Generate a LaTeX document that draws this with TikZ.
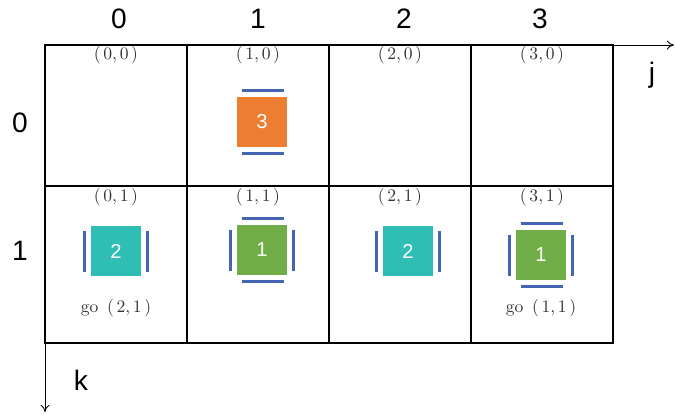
\documentclass[tikz,border=0pt]{standalone}
\usepackage{fontspec}
\newfontfamily\arial{Liberation Sans}
\usetikzlibrary{arrows.meta,positioning,calc}
\definecolor{orng}{RGB}{237,125,49}
\definecolor{tealc}{RGB}{46,190,180}
\definecolor{grn}{RGB}{112,173,71}
\definecolor{wall}{RGB}{68,100,180}
\tikzset{
  cellline/.style={draw=black,line width=0.7pt},
  axis/.style={-{To[length=4pt,width=5pt]},line width=0.5pt},
  idx/.style={font=\arial\fontsize{16}{19}\selectfont},
  coordlbl/.style={font=\fontsize{10}{12}\selectfont,text=black!80,inner sep=1pt},
  car/.style={minimum size=1cm,inner sep=0pt,text=white,font=\arial\fontsize{11.5}{13}\selectfont},
  bar/.style={draw=wall,line width=1.4pt},
}
\newcommand{\pos}[2]{(\kern1.5pt#1,\kern1.5pt#2\kern1.5pt)}

\begin{document}
\begin{tikzpicture}[x=0.02cm,y=-0.02cm]
  \useasboundingbox (0,0) rectangle (675,414);
  % grid
  \draw[cellline] (45,45) rectangle (613,343);
  \draw[cellline] (45,186) -- (613,186);
  \draw[cellline] (187,45) -- (187,343);
  \draw[cellline] (329,45) -- (329,343);
  \draw[cellline] (471,45) -- (471,343);
  % axes
  \coordinate (o) at (45,45);
  \coordinate (jend) at (674,45);
  \coordinate (kend) at (45,412);
  \draw[axis] (o) -- (jend);
  \draw[axis] (o) -- (kend);
  \node[idx] (jlbl) at (652,75) {j};
  \node[idx] (klbl) at (81,380) {k};
  % indices
  \node[idx] (c0) at (119,19) {0};
  \node[idx] (c1) at (258,19) {1};
  \node[idx] (c2) at (404,19) {2};
  \node[idx] (c3) at (540,19) {3};
  \node[idx] (r0) at (20,123) {0};
  \node[idx] (r1) at (20,251) {1};
  % cell coordinates
  \node[coordlbl] (p00) at (116,55) {\pos{0}{0}};
  \node[coordlbl] (p10) at (258,55) {\pos{1}{0}};
  \node[coordlbl] (p20) at (400,55) {\pos{2}{0}};
  \node[coordlbl] (p30) at (542,55) {\pos{3}{0}};
  \node[coordlbl] (p01) at (116,197) {\pos{0}{1}};
  \node[coordlbl] (p11) at (258,197) {\pos{1}{1}};
  \node[coordlbl] (p21) at (400,197) {\pos{2}{1}};
  \node[coordlbl] (p31) at (542,197) {\pos{3}{1}};
  % cars
  \node[car,fill=orng] (b10) at (262,122) {3};
  \node[car,fill=tealc] (b01) at (116,251) {2};
  \node[car,fill=grn] (b11) at (262,250) {1};
  \node[car,fill=tealc] (b21) at (408,251) {2};
  \node[car,fill=grn] (b31) at (541,255) {1};
  \foreach \n in {b10,b11,b31} {
    \draw[bar] ($(\n.north west)+(5,-6)$) -- ($(\n.north east)+(-3,-6)$);
    \draw[bar] ($(\n.south west)+(5,6)$) -- ($(\n.south east)+(-3,6)$);
  }
  \foreach \n in {b01,b11,b21,b31} {
    \draw[bar] ($(\n.north west)+(-6,5)$) -- ($(\n.south west)+(-6,-4)$);
    \draw[bar] ($(\n.north east)+(6,5)$) -- ($(\n.south east)+(6,-4)$);
  }
  \node[coordlbl] (g01) at (116,308) {go\kern5pt\pos{2}{1}};
  \node[coordlbl] (g31) at (541,308) {go\kern5pt\pos{1}{1}};
\end{tikzpicture}
\end{document}
